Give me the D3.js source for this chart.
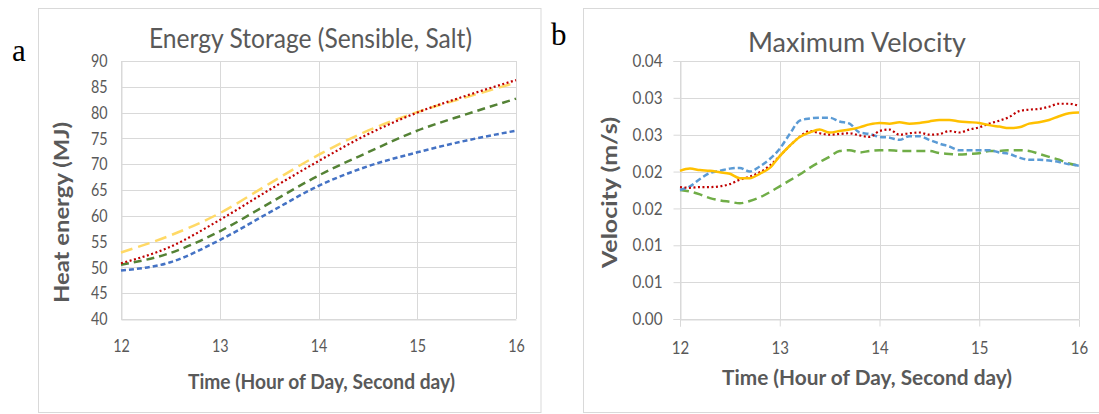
<!DOCTYPE html>
<html><head><meta charset="utf-8">
<script src="https://cdn.jsdelivr.net/npm/d3@7"></script>
<style>
body{margin:0;background:#fff;}
svg{display:block;}
text{font-family:Lato,"Open Sans",sans-serif;fill:#595959;}
</style>
</head><body>
<svg id="chart" width="1099" height="414"></svg>
<script>
// ---------- data ----------
const hourTicks = [12, 13, 14, 15, 16];
const energyTicks = [40, 45, 50, 55, 60, 65, 70, 75, 80, 85, 90];
const velTickValues = [0, 0.005, 0.01, 0.015, 0.02, 0.025, 0.03, 0.035];
const velTickLabels = ["0.00", "0.01", "0.01", "0.02", "0.02", "0.03", "0.03", "0.04"];

// panel a: energy storage (MJ)
const energyTimes  = [12, 12.5, 13, 13.5, 14, 14.5, 15, 15.5, 16];
const energyYellow = [52.9, 56.2, 60.5, 66.2, 71.8, 76.5, 80.1, 83.0, 85.8];
const energyRed    = [50.8, 54.0, 59.2, 65.0, 70.6, 75.8, 80.0, 83.3, 86.3];
const energyGreen  = [50.5, 52.8, 57.0, 62.4, 67.8, 72.3, 76.5, 79.7, 82.7];
const energyBlue   = [49.4, 51.0, 55.3, 60.6, 65.8, 69.6, 72.3, 74.6, 76.5];

// panel b: maximum velocity (m/s)
const velTimes = [12.0,12.1,12.2,12.3,12.4,12.5,12.6,12.7,12.8,12.9,
                  13.0,13.1,13.2,13.3,13.4,13.5,13.6,13.7,13.8,13.9,
                  14.0,14.1,14.2,14.3,14.4,14.5,14.6,14.7,14.8,14.9,
                  15.0,15.1,15.2,15.3,15.4,15.5,15.6,15.7,15.8,15.9,16.0];
const velYellow = [0.0201,0.0204,0.0202,0.0201,0.0199,0.0197,0.0191,0.0191,0.0197,0.0205,
                   0.0221,0.0235,0.0247,0.0253,0.0257,0.0253,0.0255,0.0257,0.0260,0.0264,
                   0.0266,0.0265,0.0267,0.0265,0.0266,0.0268,0.0270,0.0270,0.0268,0.0267,
                   0.0266,0.0263,0.0261,0.0259,0.0260,0.0265,0.0267,0.0270,0.0275,0.0279,0.0280];
const velRed    = [0.0179,0.0178,0.0179,0.0179,0.0180,0.0183,0.0189,0.0193,0.0199,0.0208,
                   0.0221,0.0235,0.0247,0.0255,0.0252,0.0250,0.0251,0.0252,0.0249,0.0247,
                   0.0255,0.0257,0.0250,0.0252,0.0253,0.0250,0.0251,0.0255,0.0253,0.0257,
                   0.0260,0.0265,0.0269,0.0274,0.0282,0.0284,0.0285,0.0288,0.0292,0.0292,0.0289];
const velBlue   = [0.0175,0.0180,0.0190,0.0198,0.0201,0.0204,0.0205,0.0200,0.0207,0.0217,
                   0.0231,0.0251,0.0269,0.0272,0.0273,0.0273,0.0268,0.0265,0.0253,0.0251,
                   0.0247,0.0246,0.0243,0.0248,0.0248,0.0243,0.0238,0.0234,0.0229,0.0229,
                   0.0229,0.0229,0.0226,0.0224,0.0219,0.0216,0.0216,0.0215,0.0213,0.0210,0.0208];
const velGreen  = [0.0175,0.0173,0.0169,0.0164,0.0161,0.0159,0.0157,0.0160,0.0165,0.0172,
                   0.0180,0.0188,0.0196,0.0205,0.0213,0.0220,0.0228,0.0229,0.0226,0.0228,
                   0.0229,0.0229,0.0228,0.0228,0.0228,0.0228,0.0225,0.0224,0.0223,0.0224,
                   0.0225,0.0228,0.0228,0.0229,0.0229,0.0228,0.0224,0.0220,0.0216,0.0211,0.0208];

// ---------- drawing ----------
const svg = d3.select("#chart");
const GRID = "#d9d9d9";

function fitText(sel, len) {
  sel.attr("textLength", len).attr("lengthAdjust", "spacingAndGlyphs");
}

// panel borders
svg.append("rect").attr("x", 38.5).attr("y", 8.5).attr("width", 502.5).attr("height", 404)
  .attr("fill", "none").attr("stroke", GRID);
svg.append("rect").attr("x", 583.5).attr("y", 8.5).attr("width", 540).attr("height", 404)
  .attr("fill", "none").attr("stroke", GRID);

// panel letters
svg.append("text").attr("x", 12).attr("y", 61).text("a")
  .style("font-family", "'Liberation Serif','Times New Roman',serif").style("font-size", "31px").style("fill", "#000");
svg.append("text").attr("x", 551).attr("y", 45).text("b")
  .style("font-family", "'Liberation Serif','Times New Roman',serif").style("font-size", "31px").style("fill", "#000");

function drawPanel(cfg) {
  const g = svg.append("g");
  const x = d3.scaleLinear().domain([12, 16]).range([cfg.x0, cfg.x1]);
  const y = d3.scaleLinear().domain(cfg.yDomain).range([cfg.y1, cfg.y0]);

  // horizontal gridlines
  g.append("g").selectAll("line").data(cfg.yTicks).join("line")
    .attr("x1", cfg.x0).attr("x2", cfg.x1)
    .attr("y1", d => Math.round(y(d)) + 0.5).attr("y2", d => Math.round(y(d)) + 0.5)
    .attr("stroke", GRID).attr("stroke-width", 1);
  // vertical gridlines
  g.append("g").selectAll("line").data(hourTicks).join("line")
    .attr("x1", d => Math.round(x(d)) + 0.5).attr("x2", d => Math.round(x(d)) + 0.5)
    .attr("y1", cfg.y0).attr("y2", cfg.y1)
    .attr("stroke", GRID).attr("stroke-width", 1);

  // axes
  const yAxis = d3.axisLeft(y).tickValues(cfg.yTicks)
    .tickSize(cfg.tickLen).tickPadding(cfg.yPad)
    .tickFormat((d, i) => cfg.yLabels[i]);
  const ya = g.append("g").attr("transform", `translate(${Math.round(cfg.x0) + 0.5},0)`).call(yAxis);
  const xAxis = d3.axisBottom(x).tickValues(hourTicks)
    .tickSize(cfg.tickLen).tickPadding(cfg.xPad).tickFormat(d3.format("d"));
  const xa = g.append("g").attr("transform", `translate(0,${Math.round(cfg.y1) + 0.5})`).call(xAxis);
  [ya, xa].forEach(a => {
    a.select(".domain").attr("stroke", GRID);
    a.selectAll(".tick line").attr("stroke", GRID);
    a.selectAll(".tick text").style("font-size", "17.5px").style("font-family", "Lato,sans-serif")
      .attr("fill", "#595959")
      .each(function() {
        const t = this.textContent;
        const w = t.replace(/\./g, "").length * cfg.digitW + (t.match(/\./g) || []).length * 4;
        d3.select(this).attr("textLength", w).attr("lengthAdjust", "spacingAndGlyphs");
      });
  });

  // series
  const line = d3.line().x((d, i) => x(cfg.times[i])).y(d => y(d)).curve(cfg.curve);
  cfg.series.forEach(s => {
    g.append("path").datum(s.values)
      .attr("d", line)
      .attr("fill", "none")
      .attr("stroke", s.color)
      .attr("stroke-width", s.width || 2.5)
      .attr("stroke-dasharray", s.dash)
      .attr("stroke-linecap", "butt")
      .attr("stroke-linejoin", "round");
  });

  // title
  g.append("text").attr("x", cfg.title.x).attr("y", cfg.title.y).text(cfg.title.text)
    .style("font-size", "26px").call(fitText, cfg.title.len);
  // x label
  g.append("text").attr("x", cfg.xLabel.x).attr("y", cfg.xLabel.y).text("Time (Hour of Day, Second day)")
    .style("font-size", "21px").style("font-weight", "bold").call(fitText, cfg.xLabel.len);
  // y label
  g.append("text").attr("transform", `translate(${cfg.yLabel.x},${cfg.yLabel.y}) rotate(-90)`)
    .attr("text-anchor", "middle").text(cfg.yLabel.text)
    .style("font-size", "21px").style("font-weight", "bold").call(fitText, cfg.yLabel.len);
}

drawPanel({
  x0: 121, x1: 516, y0: 61, y1: 319,
  yDomain: [40, 90], yTicks: energyTicks, yLabels: energyTicks.map(String),
  tickLen: 0, yPad: 14, xPad: 20, digitW: 8.3,
  times: energyTimes, curve: d3.curveMonotoneX,
  series: [
    {values: energyBlue,   color: "#4472c4", dash: "5,3"},
    {values: energyGreen,  color: "#548235", dash: "8,5"},
    {values: energyYellow, color: "#ffd966", dash: "12,6"},
    {values: energyRed,    color: "#c00000", dash: "2,2.5", width: 2.2}
  ],
  title: {x: 149, y: 48, len: 323, text: "Energy Storage (Sensible, Salt)"},
  xLabel: {x: 188, y: 389, len: 267},
  yLabel: {x: 69, y: 212.5, len: 181, text: "Heat energy (MJ)"}
});

drawPanel({
  x0: 680, x1: 1079, y0: 61, y1: 319,
  yDomain: [0, 0.035], yTicks: velTickValues, yLabels: velTickLabels,
  tickLen: 7, yPad: 11, xPad: 15, digitW: 8.7,
  times: velTimes, curve: d3.curveMonotoneX,
  series: [
    {values: velGreen,  color: "#70ad47", dash: "9,5"},
    {values: velBlue,   color: "#5b9bd5", dash: "6,3"},
    {values: velRed,    color: "#c00000", dash: "2,2.5", width: 2.2},
    {values: velYellow, color: "#ffc000", dash: null}
  ],
  title: {x: 748, y: 52, len: 218, text: "Maximum Velocity"},
  xLabel: {x: 722, y: 385, len: 290},
  yLabel: {x: 617, y: 192.5, len: 151, text: "Velocity (m/s)"}
});
</script>
</body></html>
